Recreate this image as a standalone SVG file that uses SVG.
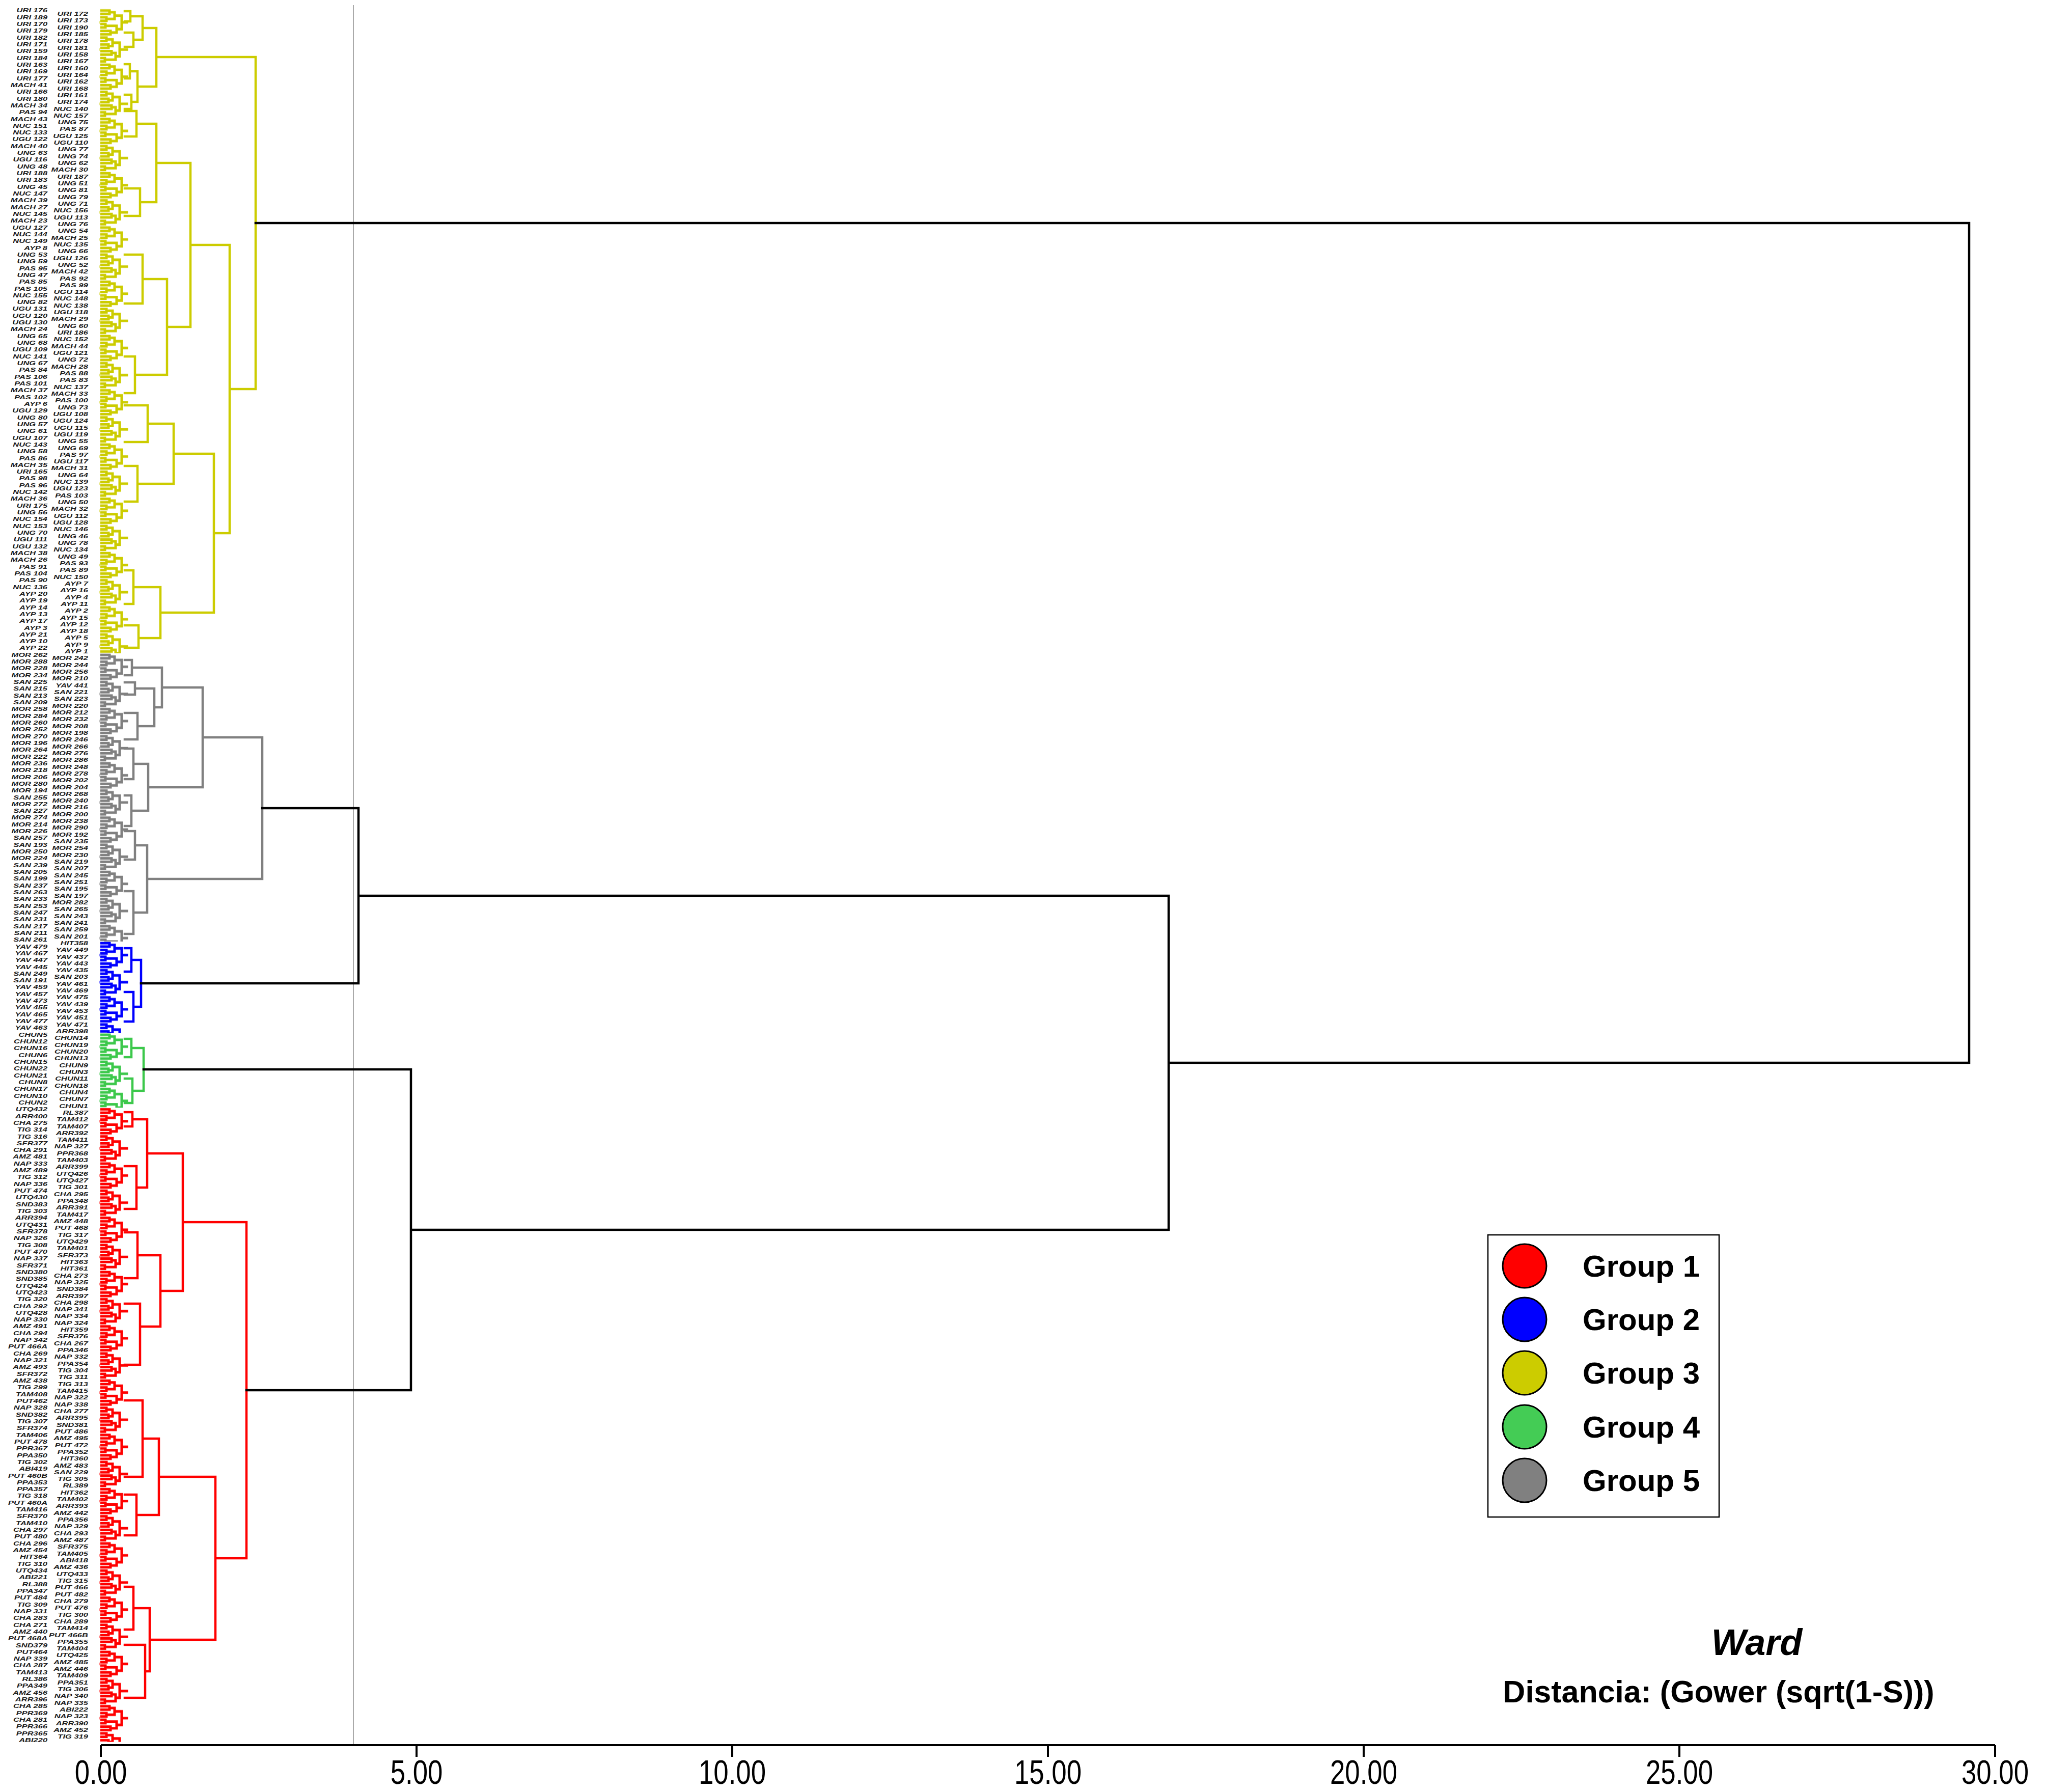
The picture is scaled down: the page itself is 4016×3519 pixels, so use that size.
<svg xmlns="http://www.w3.org/2000/svg" xmlns:xlink="http://www.w3.org/1999/xlink" width="4016" height="3519" viewBox="0 0 4016 3519">
<style>
.lb{font-family:"Liberation Sans",Arial,sans-serif;font-size:10px;font-style:italic;font-weight:bold;fill:#1a1a1a;text-anchor:end}
.ax{font-family:"Liberation Sans",Arial,sans-serif;font-size:66px;fill:#000;text-anchor:middle}
.lg{font-family:"Liberation Sans",Arial,sans-serif;font-size:60px;font-weight:bold;fill:#000}
.ln{fill:none;stroke-width:4.5;stroke-linecap:square}
.y{stroke:#CCCC00}.g{stroke:#808080}.b{stroke:#0000FF}.n{stroke:#3CC84B}.r{stroke:#FF0000}.k{stroke:#000}
</style>
<defs>
<path id="tile" fill="none" stroke-width="5" stroke-linecap="square" d="M0 3.33H18M0 9.99H18M18 3.33V9.99M0 16.65H12M0 23.31H12M12 16.65V23.31M18 6.66H28M12 19.98H28M28 6.66V19.98M0 29.97H10M0 36.63H10M10 29.97V36.63M0 43.29H20M0 49.95H20M20 43.29V49.95M10 33.3H32M20 46.62H32M32 33.3V46.62M28 13.32H42M32 39.96H42M42 13.32V39.96M42 26.64H52M0 56.61H12M0 63.27H12M12 56.61V63.27M0 69.93H16M0 76.59H16M16 69.93V76.59M12 59.94H24M16 73.26H24M24 59.94V73.26M0 83.25H22M0 89.91H22M22 83.25V89.91M0 96.57H9M0 103.23H9M9 96.57V103.23M22 86.58H30M9 99.9H30M30 86.58V99.9M24 66.6H38M30 93.24H38M38 66.6V93.24M38 79.92H52"/>
<pattern id="pY" patternUnits="userSpaceOnUse" x="197" y="17.37" width="56" height="106.56"><use xlink:href="#tile" stroke="#CCCC00"/></pattern>
<pattern id="pG" patternUnits="userSpaceOnUse" x="197" y="1282.77" width="56" height="106.56"><use xlink:href="#tile" stroke="#808080"/></pattern>
<pattern id="pB" patternUnits="userSpaceOnUse" x="197" y="1848.87" width="56" height="106.56"><use xlink:href="#tile" stroke="#0000FF"/></pattern>
<pattern id="pN" patternUnits="userSpaceOnUse" x="197" y="2028.69" width="56" height="106.56"><use xlink:href="#tile" stroke="#3CC84B"/></pattern>
<pattern id="pR" patternUnits="userSpaceOnUse" x="197" y="2175.21" width="56" height="106.56"><use xlink:href="#tile" stroke="#FF0000"/></pattern>
</defs>
<rect width="4016" height="3519" fill="#fff"/>
<line x1="694" y1="10" x2="694" y2="3427" stroke="#aaaaaa" stroke-width="2"/>

<g id="leaves">
<rect x="195" y="17.37" width="58" height="1265.4" fill="url(#pY)"/>
<rect x="195" y="1282.77" width="58" height="566.1" fill="url(#pG)"/>
<rect x="195" y="1848.87" width="58" height="179.82" fill="url(#pB)"/>
<rect x="195" y="2028.69" width="58" height="146.52" fill="url(#pN)"/>
<rect x="195" y="2175.21" width="58" height="1245.42" fill="url(#pR)"/>
</g>

<g id="group3-tree"><path class="ln y" d="M502 112V764M307 55V170M307 112H502M280 55H307M280 32V78M256 32H280M256 22V42M245 22H256M245 42H256M262 78H280M262 64V92M245 64H262M245 92H262M270 170H307M270 140V200M255 140H270M255 126V154M245 126H255M245 154H255M258 200H270M258 186V214M245 186H258M245 214H258M451 481V1047M451 764H502M374 320V642M374 481H451M307 320H374M307 243V397M268 243H307M268 218V268M245 218H268M245 268H268M275 397H307M275 370V424M245 370H275M245 424H275M328 642H374M328 548V736M280 548H328M280 500V596M245 500H280M245 596H280M265 736H328M265 700V772M245 700H265M245 772H265M420 1047H451M420 891V1203M341 891H420M341 832V950M290 832H341M290 796V868M245 796H290M245 868H290M270 950H341M270 915V985M245 915H270M245 985H270M315 1203H420M315 1153V1253M262 1153H315M262 1120V1186M245 1120H262M245 1186H262M272 1253H315M272 1228V1272M245 1228H272M245 1272H272"/></g>
<g id="group5-tree"><path class="ln g" d="M515 1448V1726M398 1448H515M398 1350V1546M318 1350H398M318 1311V1389M259 1311H318M259 1296V1326M245 1296H259M245 1326H259M303 1389H318M303 1352V1426M265 1352H303M265 1340V1364M245 1340H265M245 1364H265M270 1426H303M270 1400V1452M245 1400H270M245 1452H270M291 1546H398M291 1500V1592M262 1500H291M262 1470V1530M245 1470H262M245 1530H262M258 1592H291M258 1562V1622M245 1562H258M245 1622H258M289 1726H515M289 1660V1792M265 1660H289M265 1632V1688M245 1632H265M245 1688H265M262 1792H289M262 1750V1834M245 1750H262M245 1834H262"/></g>
<g id="group2-tree"><path class="ln b" d="M277 1885V1977M258 1885H277M258 1862V1908M245 1862H258M245 1908H258M262 1977H277M262 1948V2006M245 1948H262M245 2006H262"/></g>
<g id="group4-tree"><path class="ln n" d="M282 2058V2142M258 2058H282M258 2040V2076M245 2040H258M245 2076H258M260 2142H282M260 2118V2166M245 2118H260M245 2166H260"/></g>
<g id="group1-tree"><path class="ln r" d="M484 2400V3060M359 2400H484M359 2265V2535M289 2265H359M289 2198V2332M260 2198H289M260 2184V2212M245 2184H260M245 2212H260M268 2332H289M268 2290V2374M245 2290H268M245 2374H268M315 2535H359M315 2465V2605M270 2465H315M270 2420V2510M245 2420H270M245 2510H270M275 2605H315M275 2560V2680M245 2560H275M245 2680H275M423 3060H484M423 2900V3220M312 2900H423M312 2825V2975M280 2825H312M280 2750V2900M245 2750H280M245 2900H280M268 2975H312M268 2935V3015M245 2935H268M245 3015H268M294 3220H423M294 3158V3282M262 3158H294M262 3116V3200M245 3116H262M245 3200H262M285 3282H294M285 3230V3334M245 3230H285M245 3334H285"/></g>

<g id="connectors"><path class="ln k" d="M502 438H3867M3867 438V2087M2295 2087H3867M2295 1759V2415M704 1759H2295M704 1587V1931M515 1587H704M277 1931H704M807 2415H2295M807 2100V2730M282 2100H807M484 2730H807"/></g>

<g id="labels" transform="scale(1.65,1)">
<text class="lb"><tspan x="56.4" y="24.4">URI 176</tspan
><tspan x="56.4" dy="13.32">URI 189</tspan
><tspan x="56.4" dy="13.32">URI 170</tspan
><tspan x="56.4" dy="13.32">URI 179</tspan
><tspan x="56.4" dy="13.32">URI 182</tspan
><tspan x="56.4" dy="13.32">URI 171</tspan
><tspan x="56.4" dy="13.32">URI 159</tspan
><tspan x="56.4" dy="13.32">URI 184</tspan
><tspan x="56.4" dy="13.32">URI 163</tspan
><tspan x="56.4" dy="13.32">URI 169</tspan
><tspan x="56.4" dy="13.32">URI 177</tspan
><tspan x="56.4" dy="13.32">MACH 41</tspan
><tspan x="56.4" dy="13.32">URI 166</tspan
><tspan x="56.4" dy="13.32">URI 180</tspan
><tspan x="56.4" dy="13.32">MACH 34</tspan
><tspan x="56.4" dy="13.32">PAS 94</tspan
><tspan x="56.4" dy="13.32">MACH 43</tspan
><tspan x="56.4" dy="13.32">NUC 151</tspan
><tspan x="56.4" dy="13.32">NUC 133</tspan
><tspan x="56.4" dy="13.32">UGU 122</tspan
><tspan x="56.4" dy="13.32">MACH 40</tspan
><tspan x="56.4" dy="13.32">UNG 63</tspan
><tspan x="56.4" dy="13.32">UGU 116</tspan
><tspan x="56.4" dy="13.32">UNG 48</tspan
><tspan x="56.4" dy="13.32">URI 188</tspan
><tspan x="56.4" dy="13.32">URI 183</tspan
><tspan x="56.4" dy="13.32">UNG 45</tspan
><tspan x="56.4" dy="13.32">NUC 147</tspan
><tspan x="56.4" dy="13.32">MACH 39</tspan
><tspan x="56.4" dy="13.32">MACH 27</tspan
><tspan x="56.4" dy="13.32">NUC 145</tspan
><tspan x="56.4" dy="13.32">MACH 23</tspan
><tspan x="56.4" dy="13.32">UGU 127</tspan
><tspan x="56.4" dy="13.32">NUC 144</tspan
><tspan x="56.4" dy="13.32">NUC 149</tspan
><tspan x="56.4" dy="13.32">AYP 8</tspan
><tspan x="56.4" dy="13.32">UNG 53</tspan
><tspan x="56.4" dy="13.32">UNG 59</tspan
><tspan x="56.4" dy="13.32">PAS 95</tspan
><tspan x="56.4" dy="13.32">UNG 47</tspan
><tspan x="56.4" dy="13.32">PAS 85</tspan
><tspan x="56.4" dy="13.32">PAS 105</tspan
><tspan x="56.4" dy="13.32">NUC 155</tspan
><tspan x="56.4" dy="13.32">UNG 82</tspan
><tspan x="56.4" dy="13.32">UGU 131</tspan
><tspan x="56.4" dy="13.32">UGU 120</tspan
><tspan x="56.4" dy="13.32">UGU 130</tspan
><tspan x="56.4" dy="13.32">MACH 24</tspan
><tspan x="56.4" dy="13.32">UNG 65</tspan
><tspan x="56.4" dy="13.32">UNG 68</tspan
><tspan x="56.4" dy="13.32">UGU 109</tspan
><tspan x="56.4" dy="13.32">NUC 141</tspan
><tspan x="56.4" dy="13.32">UNG 67</tspan
><tspan x="56.4" dy="13.32">PAS 84</tspan
><tspan x="56.4" dy="13.32">PAS 106</tspan
><tspan x="56.4" dy="13.32">PAS 101</tspan
><tspan x="56.4" dy="13.32">MACH 37</tspan
><tspan x="56.4" dy="13.32">PAS 102</tspan
><tspan x="56.4" dy="13.32">AYP 6</tspan
><tspan x="56.4" dy="13.32">UGU 129</tspan
><tspan x="56.4" dy="13.32">UNG 80</tspan
><tspan x="56.4" dy="13.32">UNG 57</tspan
><tspan x="56.4" dy="13.32">UNG 61</tspan
><tspan x="56.4" dy="13.32">UGU 107</tspan
><tspan x="56.4" dy="13.32">NUC 143</tspan
><tspan x="56.4" dy="13.32">UNG 58</tspan
><tspan x="56.4" dy="13.32">PAS 86</tspan
><tspan x="56.4" dy="13.32">MACH 35</tspan
><tspan x="56.4" dy="13.32">URI 165</tspan
><tspan x="56.4" dy="13.32">PAS 98</tspan
><tspan x="56.4" dy="13.32">PAS 96</tspan
><tspan x="56.4" dy="13.32">NUC 142</tspan
><tspan x="56.4" dy="13.32">MACH 36</tspan
><tspan x="56.4" dy="13.32">URI 175</tspan
><tspan x="56.4" dy="13.32">UNG 56</tspan
><tspan x="56.4" dy="13.32">NUC 154</tspan
><tspan x="56.4" dy="13.32">NUC 153</tspan
><tspan x="56.4" dy="13.32">UNG 70</tspan
><tspan x="56.4" dy="13.32">UGU 111</tspan
><tspan x="56.4" dy="13.32">UGU 132</tspan
><tspan x="56.4" dy="13.32">MACH 38</tspan
><tspan x="56.4" dy="13.32">MACH 26</tspan
><tspan x="56.4" dy="13.32">PAS 91</tspan
><tspan x="56.4" dy="13.32">PAS 104</tspan
><tspan x="56.4" dy="13.32">PAS 90</tspan
><tspan x="56.4" dy="13.32">NUC 136</tspan
><tspan x="56.4" dy="13.32">AYP 20</tspan
><tspan x="56.4" dy="13.32">AYP 19</tspan
><tspan x="56.4" dy="13.32">AYP 14</tspan
><tspan x="56.4" dy="13.32">AYP 13</tspan
><tspan x="56.4" dy="13.32">AYP 17</tspan
><tspan x="56.4" dy="13.32">AYP 3</tspan
><tspan x="56.4" dy="13.32">AYP 21</tspan
><tspan x="56.4" dy="13.32">AYP 10</tspan
><tspan x="56.4" dy="13.32">AYP 22</tspan
></text>
<text class="lb"><tspan x="104.8" y="31.06">URI 172</tspan
><tspan x="104.8" dy="13.32">URI 173</tspan
><tspan x="104.8" dy="13.32">URI 190</tspan
><tspan x="104.8" dy="13.32">URI 185</tspan
><tspan x="104.8" dy="13.32">URI 178</tspan
><tspan x="104.8" dy="13.32">URI 181</tspan
><tspan x="104.8" dy="13.32">URI 158</tspan
><tspan x="104.8" dy="13.32">URI 167</tspan
><tspan x="104.8" dy="13.32">URI 160</tspan
><tspan x="104.8" dy="13.32">URI 164</tspan
><tspan x="104.8" dy="13.32">URI 162</tspan
><tspan x="104.8" dy="13.32">URI 168</tspan
><tspan x="104.8" dy="13.32">URI 161</tspan
><tspan x="104.8" dy="13.32">URI 174</tspan
><tspan x="104.8" dy="13.32">NUC 140</tspan
><tspan x="104.8" dy="13.32">NUC 157</tspan
><tspan x="104.8" dy="13.32">UNG 75</tspan
><tspan x="104.8" dy="13.32">PAS 87</tspan
><tspan x="104.8" dy="13.32">UGU 125</tspan
><tspan x="104.8" dy="13.32">UGU 110</tspan
><tspan x="104.8" dy="13.32">UNG 77</tspan
><tspan x="104.8" dy="13.32">UNG 74</tspan
><tspan x="104.8" dy="13.32">UNG 62</tspan
><tspan x="104.8" dy="13.32">MACH 30</tspan
><tspan x="104.8" dy="13.32">URI 187</tspan
><tspan x="104.8" dy="13.32">UNG 51</tspan
><tspan x="104.8" dy="13.32">UNG 81</tspan
><tspan x="104.8" dy="13.32">UNG 79</tspan
><tspan x="104.8" dy="13.32">UNG 71</tspan
><tspan x="104.8" dy="13.32">NUC 156</tspan
><tspan x="104.8" dy="13.32">UGU 113</tspan
><tspan x="104.8" dy="13.32">UNG 76</tspan
><tspan x="104.8" dy="13.32">UNG 54</tspan
><tspan x="104.8" dy="13.32">MACH 25</tspan
><tspan x="104.8" dy="13.32">NUC 135</tspan
><tspan x="104.8" dy="13.32">UNG 66</tspan
><tspan x="104.8" dy="13.32">UGU 126</tspan
><tspan x="104.8" dy="13.32">UNG 52</tspan
><tspan x="104.8" dy="13.32">MACH 42</tspan
><tspan x="104.8" dy="13.32">PAS 92</tspan
><tspan x="104.8" dy="13.32">PAS 99</tspan
><tspan x="104.8" dy="13.32">UGU 114</tspan
><tspan x="104.8" dy="13.32">NUC 148</tspan
><tspan x="104.8" dy="13.32">NUC 138</tspan
><tspan x="104.8" dy="13.32">UGU 118</tspan
><tspan x="104.8" dy="13.32">MACH 29</tspan
><tspan x="104.8" dy="13.32">UNG 60</tspan
><tspan x="104.8" dy="13.32">URI 186</tspan
><tspan x="104.8" dy="13.32">NUC 152</tspan
><tspan x="104.8" dy="13.32">MACH 44</tspan
><tspan x="104.8" dy="13.32">UGU 121</tspan
><tspan x="104.8" dy="13.32">UNG 72</tspan
><tspan x="104.8" dy="13.32">MACH 28</tspan
><tspan x="104.8" dy="13.32">PAS 88</tspan
><tspan x="104.8" dy="13.32">PAS 83</tspan
><tspan x="104.8" dy="13.32">NUC 137</tspan
><tspan x="104.8" dy="13.32">MACH 33</tspan
><tspan x="104.8" dy="13.32">PAS 100</tspan
><tspan x="104.8" dy="13.32">UNG 73</tspan
><tspan x="104.8" dy="13.32">UGU 108</tspan
><tspan x="104.8" dy="13.32">UGU 124</tspan
><tspan x="104.8" dy="13.32">UGU 115</tspan
><tspan x="104.8" dy="13.32">UGU 119</tspan
><tspan x="104.8" dy="13.32">UNG 55</tspan
><tspan x="104.8" dy="13.32">UNG 69</tspan
><tspan x="104.8" dy="13.32">PAS 97</tspan
><tspan x="104.8" dy="13.32">UGU 117</tspan
><tspan x="104.8" dy="13.32">MACH 31</tspan
><tspan x="104.8" dy="13.32">UNG 64</tspan
><tspan x="104.8" dy="13.32">NUC 139</tspan
><tspan x="104.8" dy="13.32">UGU 123</tspan
><tspan x="104.8" dy="13.32">PAS 103</tspan
><tspan x="104.8" dy="13.32">UNG 50</tspan
><tspan x="104.8" dy="13.32">MACH 32</tspan
><tspan x="104.8" dy="13.32">UGU 112</tspan
><tspan x="104.8" dy="13.32">UGU 128</tspan
><tspan x="104.8" dy="13.32">NUC 146</tspan
><tspan x="104.8" dy="13.32">UNG 46</tspan
><tspan x="104.8" dy="13.32">UNG 78</tspan
><tspan x="104.8" dy="13.32">NUC 134</tspan
><tspan x="104.8" dy="13.32">UNG 49</tspan
><tspan x="104.8" dy="13.32">PAS 93</tspan
><tspan x="104.8" dy="13.32">PAS 89</tspan
><tspan x="104.8" dy="13.32">NUC 150</tspan
><tspan x="104.8" dy="13.32">AYP 7</tspan
><tspan x="104.8" dy="13.32">AYP 16</tspan
><tspan x="104.8" dy="13.32">AYP 4</tspan
><tspan x="104.8" dy="13.32">AYP 11</tspan
><tspan x="104.8" dy="13.32">AYP 2</tspan
><tspan x="104.8" dy="13.32">AYP 15</tspan
><tspan x="104.8" dy="13.32">AYP 12</tspan
><tspan x="104.8" dy="13.32">AYP 18</tspan
><tspan x="104.8" dy="13.32">AYP 5</tspan
><tspan x="104.8" dy="13.32">AYP 9</tspan
><tspan x="104.8" dy="13.32">AYP 1</tspan
></text>
<text class="lb"><tspan x="56.4" y="1289.8">MOR 262</tspan
><tspan x="56.4" dy="13.32">MOR 288</tspan
><tspan x="56.4" dy="13.32">MOR 228</tspan
><tspan x="56.4" dy="13.32">MOR 234</tspan
><tspan x="56.4" dy="13.32">SAN 225</tspan
><tspan x="56.4" dy="13.32">SAN 215</tspan
><tspan x="56.4" dy="13.32">SAN 213</tspan
><tspan x="56.4" dy="13.32">SAN 209</tspan
><tspan x="56.4" dy="13.32">MOR 258</tspan
><tspan x="56.4" dy="13.32">MOR 284</tspan
><tspan x="56.4" dy="13.32">MOR 260</tspan
><tspan x="56.4" dy="13.32">MOR 252</tspan
><tspan x="56.4" dy="13.32">MOR 270</tspan
><tspan x="56.4" dy="13.32">MOR 196</tspan
><tspan x="56.4" dy="13.32">MOR 264</tspan
><tspan x="56.4" dy="13.32">MOR 222</tspan
><tspan x="56.4" dy="13.32">MOR 236</tspan
><tspan x="56.4" dy="13.32">MOR 218</tspan
><tspan x="56.4" dy="13.32">MOR 206</tspan
><tspan x="56.4" dy="13.32">MOR 280</tspan
><tspan x="56.4" dy="13.32">MOR 194</tspan
><tspan x="56.4" dy="13.32">SAN 255</tspan
><tspan x="56.4" dy="13.32">MOR 272</tspan
><tspan x="56.4" dy="13.32">SAN 227</tspan
><tspan x="56.4" dy="13.32">MOR 274</tspan
><tspan x="56.4" dy="13.32">MOR 214</tspan
><tspan x="56.4" dy="13.32">MOR 226</tspan
><tspan x="56.4" dy="13.32">SAN 257</tspan
><tspan x="56.4" dy="13.32">SAN 193</tspan
><tspan x="56.4" dy="13.32">MOR 250</tspan
><tspan x="56.4" dy="13.32">MOR 224</tspan
><tspan x="56.4" dy="13.32">SAN 239</tspan
><tspan x="56.4" dy="13.32">SAN 205</tspan
><tspan x="56.4" dy="13.32">SAN 199</tspan
><tspan x="56.4" dy="13.32">SAN 237</tspan
><tspan x="56.4" dy="13.32">SAN 263</tspan
><tspan x="56.4" dy="13.32">SAN 233</tspan
><tspan x="56.4" dy="13.32">SAN 253</tspan
><tspan x="56.4" dy="13.32">SAN 247</tspan
><tspan x="56.4" dy="13.32">SAN 231</tspan
><tspan x="56.4" dy="13.32">SAN 217</tspan
><tspan x="56.4" dy="13.32">SAN 211</tspan
><tspan x="56.4" dy="13.32">SAN 261</tspan
></text>
<text class="lb"><tspan x="104.8" y="1296.46">MOR 242</tspan
><tspan x="104.8" dy="13.32">MOR 244</tspan
><tspan x="104.8" dy="13.32">MOR 256</tspan
><tspan x="104.8" dy="13.32">MOR 210</tspan
><tspan x="104.8" dy="13.32">YAV 441</tspan
><tspan x="104.8" dy="13.32">SAN 221</tspan
><tspan x="104.8" dy="13.32">SAN 223</tspan
><tspan x="104.8" dy="13.32">MOR 220</tspan
><tspan x="104.8" dy="13.32">MOR 212</tspan
><tspan x="104.8" dy="13.32">MOR 232</tspan
><tspan x="104.8" dy="13.32">MOR 208</tspan
><tspan x="104.8" dy="13.32">MOR 198</tspan
><tspan x="104.8" dy="13.32">MOR 246</tspan
><tspan x="104.8" dy="13.32">MOR 266</tspan
><tspan x="104.8" dy="13.32">MOR 276</tspan
><tspan x="104.8" dy="13.32">MOR 286</tspan
><tspan x="104.8" dy="13.32">MOR 248</tspan
><tspan x="104.8" dy="13.32">MOR 278</tspan
><tspan x="104.8" dy="13.32">MOR 202</tspan
><tspan x="104.8" dy="13.32">MOR 204</tspan
><tspan x="104.8" dy="13.32">MOR 268</tspan
><tspan x="104.8" dy="13.32">MOR 240</tspan
><tspan x="104.8" dy="13.32">MOR 216</tspan
><tspan x="104.8" dy="13.32">MOR 200</tspan
><tspan x="104.8" dy="13.32">MOR 238</tspan
><tspan x="104.8" dy="13.32">MOR 290</tspan
><tspan x="104.8" dy="13.32">MOR 192</tspan
><tspan x="104.8" dy="13.32">SAN 235</tspan
><tspan x="104.8" dy="13.32">MOR 254</tspan
><tspan x="104.8" dy="13.32">MOR 230</tspan
><tspan x="104.8" dy="13.32">SAN 219</tspan
><tspan x="104.8" dy="13.32">SAN 207</tspan
><tspan x="104.8" dy="13.32">SAN 245</tspan
><tspan x="104.8" dy="13.32">SAN 251</tspan
><tspan x="104.8" dy="13.32">SAN 195</tspan
><tspan x="104.8" dy="13.32">SAN 197</tspan
><tspan x="104.8" dy="13.32">MOR 282</tspan
><tspan x="104.8" dy="13.32">SAN 265</tspan
><tspan x="104.8" dy="13.32">SAN 243</tspan
><tspan x="104.8" dy="13.32">SAN 241</tspan
><tspan x="104.8" dy="13.32">SAN 259</tspan
><tspan x="104.8" dy="13.32">SAN 201</tspan
></text>
<text class="lb"><tspan x="56.4" y="1862.56">YAV 479</tspan
><tspan x="56.4" dy="13.32">YAV 467</tspan
><tspan x="56.4" dy="13.32">YAV 447</tspan
><tspan x="56.4" dy="13.32">YAV 445</tspan
><tspan x="56.4" dy="13.32">SAN 249</tspan
><tspan x="56.4" dy="13.32">SAN 191</tspan
><tspan x="56.4" dy="13.32">YAV 459</tspan
><tspan x="56.4" dy="13.32">YAV 457</tspan
><tspan x="56.4" dy="13.32">YAV 473</tspan
><tspan x="56.4" dy="13.32">YAV 455</tspan
><tspan x="56.4" dy="13.32">YAV 465</tspan
><tspan x="56.4" dy="13.32">YAV 477</tspan
><tspan x="56.4" dy="13.32">YAV 463</tspan
></text>
<text class="lb"><tspan x="104.8" y="1855.9">HIT358</tspan
><tspan x="104.8" dy="13.32">YAV 449</tspan
><tspan x="104.8" dy="13.32">YAV 437</tspan
><tspan x="104.8" dy="13.32">YAV 443</tspan
><tspan x="104.8" dy="13.32">YAV 435</tspan
><tspan x="104.8" dy="13.32">SAN 203</tspan
><tspan x="104.8" dy="13.32">YAV 461</tspan
><tspan x="104.8" dy="13.32">YAV 469</tspan
><tspan x="104.8" dy="13.32">YAV 475</tspan
><tspan x="104.8" dy="13.32">YAV 439</tspan
><tspan x="104.8" dy="13.32">YAV 453</tspan
><tspan x="104.8" dy="13.32">YAV 451</tspan
><tspan x="104.8" dy="13.32">YAV 471</tspan
><tspan x="104.8" dy="13.32">ARR398</tspan
></text>
<text class="lb"><tspan x="56.4" y="2035.72">CHUN5</tspan
><tspan x="56.4" dy="13.32">CHUN12</tspan
><tspan x="56.4" dy="13.32">CHUN16</tspan
><tspan x="56.4" dy="13.32">CHUN6</tspan
><tspan x="56.4" dy="13.32">CHUN15</tspan
><tspan x="56.4" dy="13.32">CHUN22</tspan
><tspan x="56.4" dy="13.32">CHUN21</tspan
><tspan x="56.4" dy="13.32">CHUN8</tspan
><tspan x="56.4" dy="13.32">CHUN17</tspan
><tspan x="56.4" dy="13.32">CHUN10</tspan
><tspan x="56.4" dy="13.32">CHUN2</tspan
></text>
<text class="lb"><tspan x="104.8" y="2042.38">CHUN14</tspan
><tspan x="104.8" dy="13.32">CHUN19</tspan
><tspan x="104.8" dy="13.32">CHUN20</tspan
><tspan x="104.8" dy="13.32">CHUN13</tspan
><tspan x="104.8" dy="13.32">CHUN9</tspan
><tspan x="104.8" dy="13.32">CHUN3</tspan
><tspan x="104.8" dy="13.32">CHUN11</tspan
><tspan x="104.8" dy="13.32">CHUN18</tspan
><tspan x="104.8" dy="13.32">CHUN4</tspan
><tspan x="104.8" dy="13.32">CHUN7</tspan
><tspan x="104.8" dy="13.32">CHUN1</tspan
></text>
<text class="lb"><tspan x="56.4" y="2182.24">UTQ432</tspan
><tspan x="56.4" dy="13.32">ARR400</tspan
><tspan x="56.4" dy="13.32">CHA 275</tspan
><tspan x="56.4" dy="13.32">TIG 314</tspan
><tspan x="56.4" dy="13.32">TIG 316</tspan
><tspan x="56.4" dy="13.32">SFR377</tspan
><tspan x="56.4" dy="13.32">CHA 291</tspan
><tspan x="56.4" dy="13.32">AMZ 481</tspan
><tspan x="56.4" dy="13.32">NAP 333</tspan
><tspan x="56.4" dy="13.32">AMZ 489</tspan
><tspan x="56.4" dy="13.32">TIG 312</tspan
><tspan x="56.4" dy="13.32">NAP 336</tspan
><tspan x="56.4" dy="13.32">PUT 474</tspan
><tspan x="56.4" dy="13.32">UTQ430</tspan
><tspan x="56.4" dy="13.32">SND383</tspan
><tspan x="56.4" dy="13.32">TIG 303</tspan
><tspan x="56.4" dy="13.32">ARR394</tspan
><tspan x="56.4" dy="13.32">UTQ431</tspan
><tspan x="56.4" dy="13.32">SFR378</tspan
><tspan x="56.4" dy="13.32">NAP 326</tspan
><tspan x="56.4" dy="13.32">TIG 308</tspan
><tspan x="56.4" dy="13.32">PUT 470</tspan
><tspan x="56.4" dy="13.32">NAP 337</tspan
><tspan x="56.4" dy="13.32">SFR371</tspan
><tspan x="56.4" dy="13.32">SND380</tspan
><tspan x="56.4" dy="13.32">SND385</tspan
><tspan x="56.4" dy="13.32">UTQ424</tspan
><tspan x="56.4" dy="13.32">UTQ423</tspan
><tspan x="56.4" dy="13.32">TIG 320</tspan
><tspan x="56.4" dy="13.32">CHA 292</tspan
><tspan x="56.4" dy="13.32">UTQ428</tspan
><tspan x="56.4" dy="13.32">NAP 330</tspan
><tspan x="56.4" dy="13.32">AMZ 491</tspan
><tspan x="56.4" dy="13.32">CHA 294</tspan
><tspan x="56.4" dy="13.32">NAP 342</tspan
><tspan x="56.4" dy="13.32">PUT 466A</tspan
><tspan x="56.4" dy="13.32">CHA 269</tspan
><tspan x="56.4" dy="13.32">NAP 321</tspan
><tspan x="56.4" dy="13.32">AMZ 493</tspan
><tspan x="56.4" dy="13.32">SFR372</tspan
><tspan x="56.4" dy="13.32">AMZ 438</tspan
><tspan x="56.4" dy="13.32">TIG 299</tspan
><tspan x="56.4" dy="13.32">TAM408</tspan
><tspan x="56.4" dy="13.32">PUT462</tspan
><tspan x="56.4" dy="13.32">NAP 328</tspan
><tspan x="56.4" dy="13.32">SND382</tspan
><tspan x="56.4" dy="13.32">TIG 307</tspan
><tspan x="56.4" dy="13.32">SFR374</tspan
><tspan x="56.4" dy="13.32">TAM406</tspan
><tspan x="56.4" dy="13.32">PUT 478</tspan
><tspan x="56.4" dy="13.32">PPR367</tspan
><tspan x="56.4" dy="13.32">PPA350</tspan
><tspan x="56.4" dy="13.32">TIG 302</tspan
><tspan x="56.4" dy="13.32">ABI419</tspan
><tspan x="56.4" dy="13.32">PUT 460B</tspan
><tspan x="56.4" dy="13.32">PPA353</tspan
><tspan x="56.4" dy="13.32">PPA357</tspan
><tspan x="56.4" dy="13.32">TIG 318</tspan
><tspan x="56.4" dy="13.32">PUT 460A</tspan
><tspan x="56.4" dy="13.32">TAM416</tspan
><tspan x="56.4" dy="13.32">SFR370</tspan
><tspan x="56.4" dy="13.32">TAM410</tspan
><tspan x="56.4" dy="13.32">CHA 297</tspan
><tspan x="56.4" dy="13.32">PUT 480</tspan
><tspan x="56.4" dy="13.32">CHA 296</tspan
><tspan x="56.4" dy="13.32">AMZ 454</tspan
><tspan x="56.4" dy="13.32">HIT364</tspan
><tspan x="56.4" dy="13.32">TIG 310</tspan
><tspan x="56.4" dy="13.32">UTQ434</tspan
><tspan x="56.4" dy="13.32">ABI221</tspan
><tspan x="56.4" dy="13.32">RL388</tspan
><tspan x="56.4" dy="13.32">PPA347</tspan
><tspan x="56.4" dy="13.32">PUT 484</tspan
><tspan x="56.4" dy="13.32">TIG 309</tspan
><tspan x="56.4" dy="13.32">NAP 331</tspan
><tspan x="56.4" dy="13.32">CHA 283</tspan
><tspan x="56.4" dy="13.32">CHA 271</tspan
><tspan x="56.4" dy="13.32">AMZ 440</tspan
><tspan x="56.4" dy="13.32">PUT 468A</tspan
><tspan x="56.4" dy="13.32">SND379</tspan
><tspan x="56.4" dy="13.32">PUT464</tspan
><tspan x="56.4" dy="13.32">NAP 339</tspan
><tspan x="56.4" dy="13.32">CHA 287</tspan
><tspan x="56.4" dy="13.32">TAM413</tspan
><tspan x="56.4" dy="13.32">RL386</tspan
><tspan x="56.4" dy="13.32">PPA349</tspan
><tspan x="56.4" dy="13.32">AMZ 456</tspan
><tspan x="56.4" dy="13.32">ARR396</tspan
><tspan x="56.4" dy="13.32">CHA 285</tspan
><tspan x="56.4" dy="13.32">PPR369</tspan
><tspan x="56.4" dy="13.32">CHA 281</tspan
><tspan x="56.4" dy="13.32">PPR366</tspan
><tspan x="56.4" dy="13.32">PPR365</tspan
><tspan x="56.4" dy="13.32">ABI220</tspan
></text>
<text class="lb"><tspan x="104.8" y="2188.9">RL387</tspan
><tspan x="104.8" dy="13.32">TAM412</tspan
><tspan x="104.8" dy="13.32">TAM407</tspan
><tspan x="104.8" dy="13.32">ARR392</tspan
><tspan x="104.8" dy="13.32">TAM411</tspan
><tspan x="104.8" dy="13.32">NAP 327</tspan
><tspan x="104.8" dy="13.32">PPR368</tspan
><tspan x="104.8" dy="13.32">TAM403</tspan
><tspan x="104.8" dy="13.32">ARR399</tspan
><tspan x="104.8" dy="13.32">UTQ426</tspan
><tspan x="104.8" dy="13.32">UTQ427</tspan
><tspan x="104.8" dy="13.32">TIG 301</tspan
><tspan x="104.8" dy="13.32">CHA 295</tspan
><tspan x="104.8" dy="13.32">PPA348</tspan
><tspan x="104.8" dy="13.32">ARR391</tspan
><tspan x="104.8" dy="13.32">TAM417</tspan
><tspan x="104.8" dy="13.32">AMZ 448</tspan
><tspan x="104.8" dy="13.32">PUT 468</tspan
><tspan x="104.8" dy="13.32">TIG 317</tspan
><tspan x="104.8" dy="13.32">UTQ429</tspan
><tspan x="104.8" dy="13.32">TAM401</tspan
><tspan x="104.8" dy="13.32">SFR373</tspan
><tspan x="104.8" dy="13.32">HIT363</tspan
><tspan x="104.8" dy="13.32">HIT361</tspan
><tspan x="104.8" dy="13.32">CHA 273</tspan
><tspan x="104.8" dy="13.32">NAP 325</tspan
><tspan x="104.8" dy="13.32">SND384</tspan
><tspan x="104.8" dy="13.32">ARR397</tspan
><tspan x="104.8" dy="13.32">CHA 298</tspan
><tspan x="104.8" dy="13.32">NAP 341</tspan
><tspan x="104.8" dy="13.32">NAP 334</tspan
><tspan x="104.8" dy="13.32">NAP 324</tspan
><tspan x="104.8" dy="13.32">HIT359</tspan
><tspan x="104.8" dy="13.32">SFR376</tspan
><tspan x="104.8" dy="13.32">CHA 267</tspan
><tspan x="104.8" dy="13.32">PPA346</tspan
><tspan x="104.8" dy="13.32">NAP 332</tspan
><tspan x="104.8" dy="13.32">PPA354</tspan
><tspan x="104.8" dy="13.32">TIG 304</tspan
><tspan x="104.8" dy="13.32">TIG 311</tspan
><tspan x="104.8" dy="13.32">TIG 313</tspan
><tspan x="104.8" dy="13.32">TAM415</tspan
><tspan x="104.8" dy="13.32">NAP 322</tspan
><tspan x="104.8" dy="13.32">NAP 338</tspan
><tspan x="104.8" dy="13.32">CHA 277</tspan
><tspan x="104.8" dy="13.32">ARR395</tspan
><tspan x="104.8" dy="13.32">SND381</tspan
><tspan x="104.8" dy="13.32">PUT 486</tspan
><tspan x="104.8" dy="13.32">AMZ 495</tspan
><tspan x="104.8" dy="13.32">PUT 472</tspan
><tspan x="104.8" dy="13.32">PPA352</tspan
><tspan x="104.8" dy="13.32">HIT360</tspan
><tspan x="104.8" dy="13.32">AMZ 483</tspan
><tspan x="104.8" dy="13.32">SAN 229</tspan
><tspan x="104.8" dy="13.32">TIG 305</tspan
><tspan x="104.8" dy="13.32">RL389</tspan
><tspan x="104.8" dy="13.32">HIT362</tspan
><tspan x="104.8" dy="13.32">TAM402</tspan
><tspan x="104.8" dy="13.32">ARR393</tspan
><tspan x="104.8" dy="13.32">AMZ 442</tspan
><tspan x="104.8" dy="13.32">PPA356</tspan
><tspan x="104.8" dy="13.32">NAP 329</tspan
><tspan x="104.8" dy="13.32">CHA 293</tspan
><tspan x="104.8" dy="13.32">AMZ 487</tspan
><tspan x="104.8" dy="13.32">SFR375</tspan
><tspan x="104.8" dy="13.32">TAM405</tspan
><tspan x="104.8" dy="13.32">ABI418</tspan
><tspan x="104.8" dy="13.32">AMZ 436</tspan
><tspan x="104.8" dy="13.32">UTQ433</tspan
><tspan x="104.8" dy="13.32">TIG 315</tspan
><tspan x="104.8" dy="13.32">PUT 466</tspan
><tspan x="104.8" dy="13.32">PUT 482</tspan
><tspan x="104.8" dy="13.32">CHA 279</tspan
><tspan x="104.8" dy="13.32">PUT 476</tspan
><tspan x="104.8" dy="13.32">TIG 300</tspan
><tspan x="104.8" dy="13.32">CHA 289</tspan
><tspan x="104.8" dy="13.32">TAM414</tspan
><tspan x="104.8" dy="13.32">PUT 466B</tspan
><tspan x="104.8" dy="13.32">PPA355</tspan
><tspan x="104.8" dy="13.32">TAM404</tspan
><tspan x="104.8" dy="13.32">UTQ425</tspan
><tspan x="104.8" dy="13.32">AMZ 485</tspan
><tspan x="104.8" dy="13.32">AMZ 446</tspan
><tspan x="104.8" dy="13.32">TAM409</tspan
><tspan x="104.8" dy="13.32">PPA351</tspan
><tspan x="104.8" dy="13.32">TIG 306</tspan
><tspan x="104.8" dy="13.32">NAP 340</tspan
><tspan x="104.8" dy="13.32">NAP 335</tspan
><tspan x="104.8" dy="13.32">ABI222</tspan
><tspan x="104.8" dy="13.32">NAP 323</tspan
><tspan x="104.8" dy="13.32">ARR390</tspan
><tspan x="104.8" dy="13.32">AMZ 452</tspan
><tspan x="104.8" dy="13.32">TIG 319</tspan
></text>
</g>

<g id="axis">
<path d="M198 3427H3918M198 3427V3450M818 3427V3450M1438 3427V3450M2058 3427V3450M2678 3427V3450M3298 3427V3450M3918 3427V3450" fill="none" stroke="#000" stroke-width="4"/>
<text class="ax" transform="translate(198 3503) scale(0.8 1)">0.00</text>
<text class="ax" transform="translate(818 3503) scale(0.8 1)">5.00</text>
<text class="ax" transform="translate(1438 3503) scale(0.8 1)">10.00</text>
<text class="ax" transform="translate(2058 3503) scale(0.8 1)">15.00</text>
<text class="ax" transform="translate(2678 3503) scale(0.8 1)">20.00</text>
<text class="ax" transform="translate(3298 3503) scale(0.8 1)">25.00</text>
<text class="ax" transform="translate(3918 3503) scale(0.8 1)">30.00</text>
</g>

<g id="legend">
<rect x="2922" y="2425" width="454" height="554" fill="#fff" stroke="#000" stroke-width="2.5"/>
<g id="legend-1"><circle cx="2994" cy="2486" r="43" fill="#FF0000" stroke="#000" stroke-width="3"/><text class="lg" x="3108" y="2507">Group 1</text></g>
<g id="legend-2"><circle cx="2994" cy="2591" r="43" fill="#0000FF" stroke="#000" stroke-width="3"/><text class="lg" x="3108" y="2612">Group 2</text></g>
<g id="legend-3"><circle cx="2994" cy="2696" r="43" fill="#CCCC00" stroke="#000" stroke-width="3"/><text class="lg" x="3108" y="2717">Group 3</text></g>
<g id="legend-4"><circle cx="2994" cy="2802" r="43" fill="#44CC55" stroke="#000" stroke-width="3"/><text class="lg" x="3108" y="2823">Group 4</text></g>
<g id="legend-5"><circle cx="2994" cy="2907" r="43" fill="#808080" stroke="#000" stroke-width="3"/><text class="lg" x="3108" y="2928">Group 5</text></g>
</g>

<g id="titles">
<text x="3450" y="3250" text-anchor="middle" font-family="Liberation Sans, Arial, sans-serif" font-size="72" font-weight="bold" font-style="italic">Ward</text>
<text x="3375" y="3343" text-anchor="middle" font-family="Liberation Sans, Arial, sans-serif" font-size="61" font-weight="bold">Distancia: (Gower (sqrt(1-S)))</text>
</g>
</svg>
